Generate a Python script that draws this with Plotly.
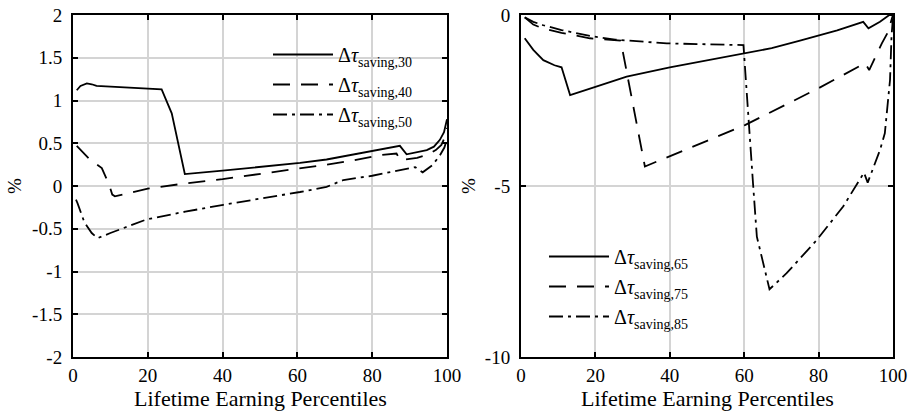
import plotly.graph_objects as go

# ---------------- data: left panel ----------------
x_s30 = [1, 2, 3.7, 5, 6.3, 10, 15, 20, 23.7, 26.4, 29.9, 40, 50, 60.7, 67.8, 75, 80, 85, 87.4, 89.2, 92, 94.6, 96.5, 98.1, 99.2, 99.6, 100]
y_s30 = [1.12, 1.17, 1.20, 1.19, 1.17, 1.16, 1.15, 1.14, 1.13, 0.85, 0.14, 0.18, 0.22, 0.27, 0.31, 0.37, 0.41, 0.45, 0.47, 0.37, 0.40, 0.42, 0.46, 0.54, 0.63, 0.72, 0.78]

x_s40 = [1, 4.5, 7.7, 9.7, 10.5, 11.2, 20, 30, 40, 50, 60.7, 67.8, 75, 82, 86.5, 87.5, 92, 95, 97, 98.5, 99.5, 100]
y_s40 = [0.47, 0.31, 0.21, 0.01, -0.10, -0.12, -0.03, 0.03, 0.08, 0.14, 0.20, 0.25, 0.30, 0.36, 0.38, 0.30, 0.33, 0.37, 0.42, 0.48, 0.58, 0.68]

x_s50 = [0.8, 1.2, 3, 5, 6.6, 10, 19.7, 30, 40.2, 50, 60.7, 67.8, 72.3, 80, 87.4, 91.5, 93.5, 96, 98, 99.3, 100]
y_s50 = [-0.16, -0.20, -0.42, -0.55, -0.61, -0.55, -0.39, -0.30, -0.22, -0.15, -0.07, -0.01, 0.07, 0.12, 0.19, 0.22, 0.16, 0.24, 0.35, 0.45, 0.55]

# ---------------- data: right panel ----------------
x_s65 = [1, 3.3, 6, 9, 10.9, 13.2, 20, 28.4, 40, 50, 60.2, 67.4, 75, 85, 92, 93.4, 96.5, 99, 100]
y_s65 = [-0.68, -1.02, -1.32, -1.47, -1.53, -2.34, -2.10, -1.80, -1.53, -1.32, -1.12, -0.97, -0.75, -0.45, -0.20, -0.39, -0.20, 0.0, 0.0]

x_s75 = [1, 3.3, 6, 10.9, 18.5, 26.8, 33.3, 40, 50, 60.2, 70, 80, 92.5, 93.6, 97, 98.7, 99.7, 100]
y_s75 = [-0.07, -0.28, -0.40, -0.52, -0.68, -0.75, -4.43, -4.12, -3.68, -3.22, -2.68, -2.14, -1.41, -1.61, -0.83, -0.49, -0.10, 0.0]

x_s85 = [1, 3.3, 6, 10.9, 18.5, 25.3, 39.2, 50, 59.8, 62.4, 63.4, 66.8, 71.4, 79.5, 86.6, 92.2, 93.2, 96.5, 97.8, 99.2, 99.6, 100]
y_s85 = [-0.07, -0.20, -0.30, -0.44, -0.61, -0.72, -0.83, -0.86, -0.88, -4.97, -6.48, -8.02, -7.55, -6.58, -5.60, -4.61, -4.90, -3.95, -3.46, -1.90, -0.63, -0.05]

x_ticks = [0, 20, 40, 60, 80, 100]
x_ticktext = ["0", "20", "40", "60", "80", "100"]
yl_ticks = [-2, -1.5, -1, -0.5, 0, 0.5, 1, 1.5, 2]
yl_ticktext = ["-2", "-1.5", "-1", "-0.5", "0", "0.5", "1", "1.5", "2"]
yr_ticks = [-10, -5, 0]
yr_ticktext = ["-10", "-5", "0"]

names_left = ["Δ<i>τ</i><sub>saving,30</sub>", "Δ<i>τ</i><sub>saving,40</sub>", "Δ<i>τ</i><sub>saving,50</sub>"]
names_right = ["Δ<i>τ</i><sub>saving,65</sub>", "Δ<i>τ</i><sub>saving,75</sub>", "Δ<i>τ</i><sub>saving,85</sub>"]
xlabel = "Lifetime Earning Percentiles"
ylabel = "%"

FONT = "Liberation Serif"
W, H = 910, 412
LW = 1.8
DASH = "17px,11px"
DASHDOT = "14px,5px,3px,5px"
styles = ["solid", DASH, DASHDOT]

fig = go.Figure()
for i, (xs, ys, nm, st) in enumerate(zip([x_s30, x_s40, x_s50], [y_s30, y_s40, y_s50], names_left, styles)):
    fig.add_trace(go.Scatter(x=xs, y=ys, mode="lines", name=nm, legendgroup="L%d" % i,
                             line=dict(color="black", width=LW, dash=st),
                             xaxis="x", yaxis="y", legend="legend"))
for i, (xs, ys, nm, st) in enumerate(zip([x_s65, x_s75, x_s85], [y_s65, y_s75, y_s85], names_right, styles)):
    fig.add_trace(go.Scatter(x=xs, y=ys, mode="lines", name=nm, legendgroup="R%d" % i,
                             line=dict(color="black", width=LW, dash=st),
                             xaxis="x2", yaxis="y2", legend="legend2"))

def px_x(p):
    return p / W

def px_y(p):
    return 1 - p / H

ax_common = dict(showline=True, linecolor="black", linewidth=2, mirror="ticks",
                 ticks="inside", ticklen=5, tickcolor="black", tickwidth=1.5,
                 showgrid=True, gridcolor="#d4d4d4", gridwidth=1.5, automargin=False,
                 ticklabeloverflow="allow",
                 zeroline=False, tickfont=dict(family=FONT, size=19, color="black"))

fig.update_layout(
    width=W, height=H, margin=dict(l=0, r=0, t=0, b=0, autoexpand=False),
    paper_bgcolor="white", plot_bgcolor="white",
    font=dict(family=FONT, color="black"),
    xaxis=dict(domain=[px_x(73), px_x(447)], range=[0, 100], tickvals=x_ticks, ticktext=x_ticktext,
               anchor="y", ticklabelstandoff=0, **ax_common),
    yaxis=dict(domain=[px_y(357), px_y(15)], range=[-2, 2], tickvals=yl_ticks, ticktext=yl_ticktext,
               anchor="x", ticklabelstandoff=5, **ax_common),
    xaxis2=dict(domain=[px_x(521), px_x(893)], range=[0, 100], tickvals=x_ticks, ticktext=x_ticktext,
                anchor="y2", ticklabelstandoff=0, **ax_common),
    yaxis2=dict(domain=[px_y(357), px_y(15)], range=[-10, 0], tickvals=yr_ticks, ticktext=yr_ticktext,
                anchor="x2", ticklabelstandoff=5, **ax_common),
    legend=dict(x=px_x(268), y=px_y(35), xanchor="left", yanchor="top",
                bgcolor="rgba(0,0,0,0)", borderwidth=0, itemwidth=60,
                font=dict(family=FONT, size=20, color="black"), tracegroupgap=1),
    legend2=dict(x=px_x(544), y=px_y(237), xanchor="left", yanchor="top",
                 bgcolor="rgba(0,0,0,0)", borderwidth=0, itemwidth=60,
                 font=dict(family=FONT, size=20, color="black"), tracegroupgap=1),
    showlegend=True,
)

for xc in [(73 + 447) / 2, (521 + 893) / 2]:
    fig.add_annotation(x=px_x(xc), y=px_y(398), xref="paper", yref="paper", text=xlabel,
                       showarrow=False, xanchor="center", yanchor="middle",
                       font=dict(family=FONT, size=22, color="black"))
for xc in [14, 468]:
    fig.add_annotation(x=px_x(xc), y=px_y(186), xref="paper", yref="paper", text=ylabel,
                       showarrow=False, textangle=-90, xanchor="center", yanchor="middle",
                       font=dict(family=FONT, size=19, color="black"))

fig.write_html("out.html", config={"displayModeBar": False},
               post_script="document.body.style.margin='0px';")
